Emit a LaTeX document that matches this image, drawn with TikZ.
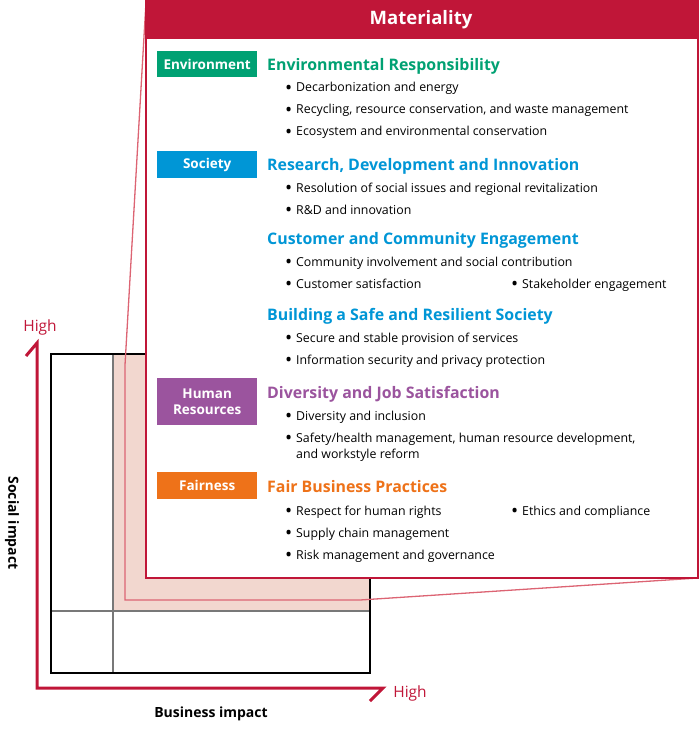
\documentclass[tikz,border=0pt]{standalone}
\usepackage{fontspec}
\setmainfont{Open Sans}
\definecolor{mred}{RGB}{192,22,56}
\definecolor{pinkfill}{RGB}{242,215,207}
\definecolor{callc}{RGB}{220,100,115}
\definecolor{gridgrey}{RGB}{120,120,120}
\definecolor{cgreen}{RGB}{0,161,115}
\definecolor{cblue}{RGB}{0,150,214}
\definecolor{cpurple}{RGB}{155,84,158}
\definecolor{corange}{RGB}{238,114,25}
\tikzset{
  catbox/.style={fill=#1, text=white, font=\bfseries\fontsize{13.5}{15}\selectfont,
    minimum width=100pt, inner sep=0pt, anchor=north west, align=center},
  head/.style={text=#1, font=\bfseries\fontsize{15.9}{18}\selectfont, anchor=west,
    inner sep=0pt, text height=11pt, text depth=3pt},
  item/.style={anchor=west, inner sep=0pt, font=\fontsize{12.35}{15}\selectfont,
    text height=9pt, text depth=3pt},
  hightxt/.style={text=mred, font=\fontsize{15.5}{18}\selectfont, inner sep=0pt},
  axislbl/.style={font=\bfseries\fontsize{14}{15}\selectfont, inner sep=0pt},
}
\newcommand{\bul}{\makebox[10pt][l]{\hspace{-1pt}{\fontsize{19}{19}\selectfont\raisebox{-2.2pt}{\textbullet}}}}
\begin{document}
\begin{tikzpicture}[x=1pt,y=-1pt]
\useasboundingbox (0,0) rectangle (700,730);
% matrix
\fill[pinkfill] (113,354) rectangle (370,611);
\draw[gridgrey, line width=1.2pt] (113,354) -- (113,673);
\draw[gridgrey, line width=1.2pt] (51,611) -- (370,611);
\draw[black, line width=1.2pt] (51,354) rectangle (370,673);
% callout line
\draw[callc, line width=1.3pt] (146,2) -- (125,365) -- (125,600) -- (360,600) -- (698,578);
% main box
\fill[white] (146,2) rectangle (698,578);
\fill[mred] (146,1) rectangle (698,39);
\draw[mred, line width=2pt] (146,1) rectangle (698,578);
\node[text=white, font=\bfseries\fontsize{18.5}{20}\selectfont, inner sep=0pt] (title) at (421,20) {Materiality};
% axes
\draw[mred, line width=3pt, miter limit=3] (26,356) -- (37,343) -- (37,688) -- (383,688) -- (370,701);
\node[hightxt] (highy) at (40,327) {High};
\node[hightxt] (highx) at (410,693) {High};
\node[axislbl, rotate=-90] (socimp) at (12,523) {Social impact};
\node[axislbl] (busimp) at (211,714) {Business impact};
% categories
\node[catbox=cgreen, minimum height=26pt] (env) at (157,51) {Environment};
\node[catbox=cblue, minimum height=27pt] (soc) at (157,151) {Society};
\node[catbox=cpurple, minimum height=47pt] (hr) at (157,378) {Human\\[1pt]Resources};
\node[catbox=corange, minimum height=27pt] (fair) at (157,472) {Fairness};
% headings
\node[head=cgreen] (h1) at (267,66.5) {Environmental Responsibility};
\node[head=cblue] (h2) at (267,166.5) {Research, Development and Innovation};
\node[head=cblue] (h3) at (267,240.5) {Customer and Community Engagement};
\node[head=cblue] (h4) at (267,316.5) {Building a Safe and Resilient Society};
\node[head=cpurple] (h5) at (267,394.5) {Diversity and Job Satisfaction};
\node[head=corange] (h6) at (267,488.5) {Fair Business Practices};
% items
\node[item] (i11) at (286,89) {\bul Decarbonization and energy};
\node[item] (i12) at (286,111) {\bul Recycling, resource conservation, and waste management};
\node[item] (i13) at (286,133) {\bul Ecosystem and environmental conservation};
\node[item] (i21) at (286,189) {\bul Resolution of social issues and regional revitalization};
\node[item] (i22) at (286,211) {\bul R\&D and innovation};
\node[item] (i31) at (286,263) {\bul Community involvement and social contribution};
\node[item] (i32) at (286,285) {\bul Customer satisfaction};
\node[item] (i33) at (512,285) {\bul Stakeholder engagement};
\node[item] (i41) at (286,339) {\bul Secure and stable provision of services};
\node[item] (i42) at (286,361) {\bul Information security and privacy protection};
\node[item] (i51) at (286,417) {\bul Diversity and inclusion};
\node[item] (i52) at (286,439) {\bul Safety/health management, human resource development,};
\node[item] (i53) at (296,455) {and workstyle reform};
\node[item] (i61) at (286,512) {\bul Respect for human rights};
\node[item] (i62) at (512,512) {\bul Ethics and compliance};
\node[item] (i63) at (286,534) {\bul Supply chain management};
\node[item] (i64) at (286,556) {\bul Risk management and governance};
\end{tikzpicture}
\end{document}
